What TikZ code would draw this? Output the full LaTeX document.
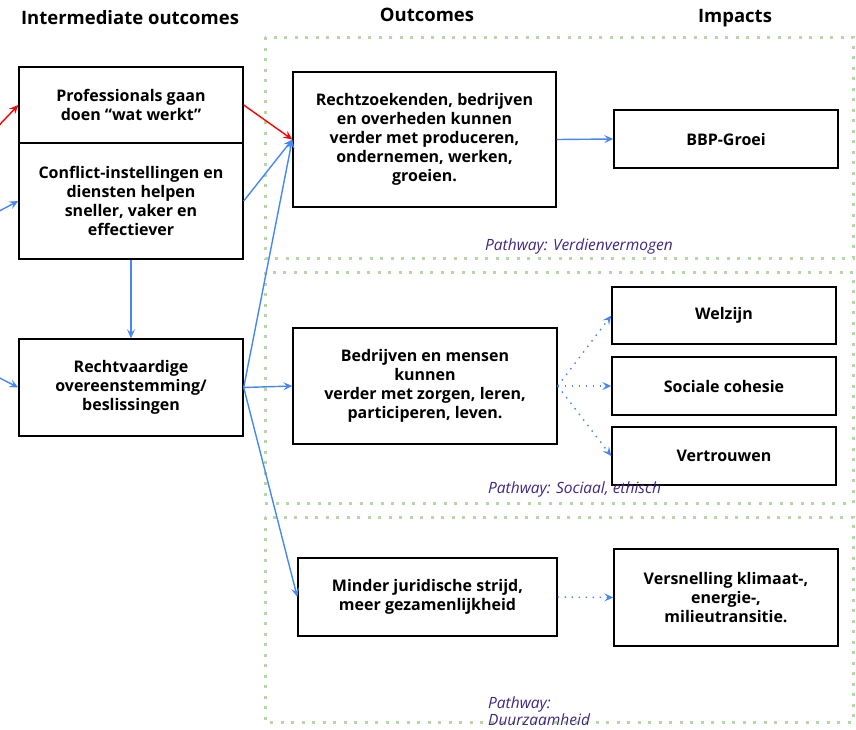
\documentclass[tikz,border=0pt]{standalone}
\usepackage{fontspec}
\setmainfont{Open Sans}
\usetikzlibrary{arrows.meta,positioning}
\definecolor{flowblue}{RGB}{70,135,245}
\definecolor{framegreen}{RGB}{182,215,168}
\definecolor{pathpurple}{RGB}{62,38,130}
\tikzset{
  box/.style={draw, line width=1.4pt, align=center, inner sep=0pt,
    font=\bfseries\fontsize{16}{19}\selectfont},
  header/.style={font=\bfseries\fontsize{18.5}{22}\selectfont},
  pathway/.style={text=pathpurple, align=left, inner sep=0pt,
    font=\itshape\fontsize{15.5}{17}\selectfont},
  frame/.style={framegreen, line width=3pt, dash pattern=on 3pt off 7.5pt},
  flow/.style={flowblue, line width=1.4pt, -{Stealth[length=9pt,width=8pt,inset=3.5pt]}},
  redflow/.style={red, line width=1.4pt, -{Stealth[length=9pt,width=8pt,inset=3.5pt]}},
  dotflow/.style={flowblue, line width=1.4pt, dash pattern=on 1.5pt off 5.5pt,
    -{Stealth[length=9pt,width=8pt,inset=3.5pt]}}
}
\begin{document}
\begin{tikzpicture}[x=1pt,y=-1pt]
\useasboundingbox (0,0) rectangle (856,729);
% pathway frames
\draw[frame] (265,37) rectangle (853,258);
\draw[frame] (265,272) rectangle (853,503);
\draw[frame] (265,517) rectangle (853,722);
% column headers
\node[header] (hinter) at (130,18) {Intermediate outcomes};
\node[header] (hout) at (427,15) {Outcomes};
\node[header] (himp) at (735,18) {Impacts};
% intermediate outcomes
\node[box, minimum width=224pt, minimum height=76pt] (prof) at (131,105)
  {Professionals gaan\\doen ``wat werkt''};
\node[box, minimum width=224pt, minimum height=116pt] (confl) at (131,201)
  {Conflict-instellingen en\\diensten helpen\\sneller, vaker en\\effectiever};
\node[box, minimum width=224pt, minimum height=97pt] (recht) at (131,387.5)
  {Rechtvaardige\\overeenstemming/\\beslissingen};
% outcomes
\node[box, minimum width=263pt, minimum height=135pt] (verder) at (424.5,139.5)
  {Rechtzoekenden, bedrijven\\en overheden kunnen\\verder met produceren,\\ondernemen, werken,\\groeien.};
\node[box, minimum width=264pt, minimum height=116pt] (zorgen) at (425,386)
  {Bedrijven en mensen\\kunnen\\verder met zorgen, leren,\\participeren, leven.};
\node[box, minimum width=259pt, minimum height=78pt] (minder) at (427.5,597)
  {Minder juridische strijd,\\meer gezamenlijkheid};
% impacts
\node[box, minimum width=224pt, minimum height=58pt] (bbp) at (726,139) {BBP-Groei};
\node[box, minimum width=224pt, minimum height=57pt] (welzijn) at (724,315.5) {Welzijn};
\node[box, minimum width=224pt, minimum height=58pt] (cohesie) at (724,386) {Sociale cohesie};
\node[box, minimum width=224pt, minimum height=58pt] (vertr) at (724,456) {Vertrouwen};
\node[box, minimum width=224pt, minimum height=97pt] (versn) at (726,597.5)
  {Versnelling klimaat-,\\energie-,\\milieutransitie.};
% pathway labels
\node[pathway, anchor=west] (pverd) at (485,246) {Pathway: Verdienvermogen};
\node[pathway, anchor=west] (psoc) at (488,489) {Pathway: Sociaal, ethisch};
\node[pathway, anchor=north west] (pduur) at (488,697) {Pathway:\\Duurzaamheid};
% incoming from outside
\coordinate (inprof) at (-12,137);
\coordinate (inconfl) at (-12,217);
\coordinate (inrecht) at (-12,372);
\draw[redflow] (inprof) -- (prof.west);
\draw[flow] (inconfl) -- (confl.west);
\draw[flow] (inrecht) -- (recht.west);
% links
\draw[redflow] (prof.east) -- (verder.west);
\draw[flow] (confl.east) -- (verder.west);
\draw[flow] (confl.south) -- (recht.north);
\draw[flow] (recht.east) -- (verder.west);
\draw[flow] (recht.east) -- (zorgen.west);
\draw[flow] (recht.east) -- (minder.west);
\draw[flow] (verder.east) -- (bbp.west);
\draw[dotflow] (zorgen.east) -- (welzijn.west);
\draw[dotflow] (zorgen.east) -- (cohesie.west);
\draw[dotflow] (zorgen.east) -- (vertr.west);
\draw[dotflow] (minder.east) -- (versn.west);
\end{tikzpicture}
\end{document}
